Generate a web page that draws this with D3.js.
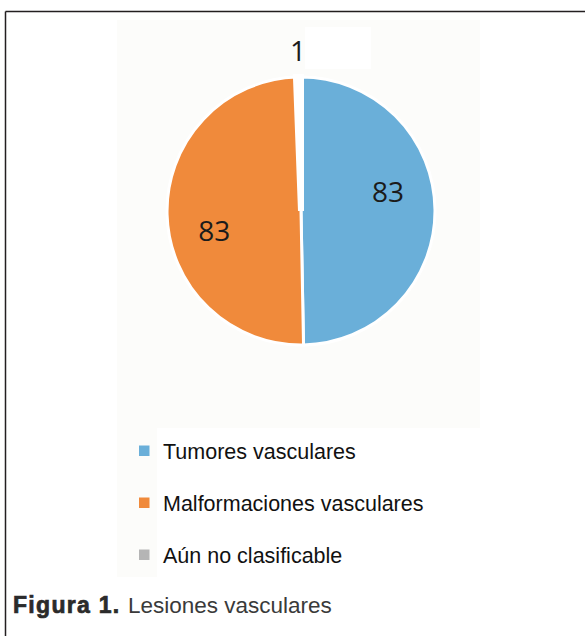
<!DOCTYPE html>
<html>
<head>
  <meta charset="utf-8">
  <title>Lesiones vasculares</title>
  <script src="https://d3js.org/d3.v7.min.js"></script>
  <style>
    body { margin: 0; background: #fff; }
    .legend text { font-family: "Liberation Sans", Arial, sans-serif; font-size: 21.5px; fill: #111; }
    .lbl { font-family: "Open Sans", "Segoe UI", sans-serif; font-size: 28px; fill: #1b1b1b; }
  </style>
</head>
<body>
  <svg id="chart" width="585" height="636"></svg>

  <script>
    // datos
    var categories = ["Tumores vasculares", "Malformaciones vasculares", "Aún no clasificable"];
    var values = [83, 83, 1];
    var colors = ["#6aafd9", "#f08a3b", "#b5b5b5"];

    var data = categories.map(function(c, i) { return { name: c, value: values[i] }; });

    var svg = d3.select("#chart");

    // marco de la figura (solo arriba e izquierda)
    svg.append("line").attr("x1", 5.5).attr("y1", 11.5).attr("x2", 585).attr("y2", 11.5)
      .attr("stroke", "#231f20").attr("stroke-width", 1.5);
    svg.append("line").attr("x1", 5.5).attr("y1", 11.5).attr("x2", 5.5).attr("y2", 636)
      .attr("stroke", "#231f20").attr("stroke-width", 1.5);

    // fondo claro de la imagen pegada
    svg.append("rect").attr("x", 117).attr("y", 20).attr("width", 363).attr("height", 408).attr("fill", "#fcfcfa");
    svg.append("rect").attr("x", 117).attr("y", 428).attr("width", 40).attr("height", 149).attr("fill", "#fcfcfa");
    svg.append("rect").attr("x", 305).attr("y", 27).attr("width", 66).attr("height", 42).attr("fill", "#ffffff");

    var cx = 301, cy = 211, radius = 134;
    var g = svg.append("g").attr("transform", "translate(" + cx + "," + cy + ")");

    var total = d3.sum(values);
    var pie = d3.pie().sort(null).value(function(d) { return d.value; });
    var arc = d3.arc().innerRadius(0).outerRadius(radius);
    var arcs = pie(data);

    g.selectAll("path")
      .data(arcs)
      .enter().append("path")
        .attr("d", arc)
        .attr("fill", function(d, i) { return colors[i]; })
        .attr("stroke", "#fff")
        .attr("stroke-width", function(d) { return d.value / total < 0.05 ? 6 : 3; });

    // etiquetas: dentro para los sectores grandes, fuera para el pequeño
    var inner = d3.arc().innerRadius(89).outerRadius(89);
    var outer = d3.arc().innerRadius(160).outerRadius(160);
    var shift = 0.2;

    g.selectAll(".lbl")
      .data(arcs)
      .enter().append("text")
        .attr("class", "lbl")
        .attr("text-anchor", "middle")
        .attr("transform", function(d) {
          var p;
          if (d.value / total < 0.05) {
            p = outer.centroid(d);
          } else {
            p = inner.centroid({ startAngle: d.startAngle - shift, endAngle: d.endAngle - shift });
          }
          return "translate(" + p[0] + "," + (p[1] + 10) + ")";
        })
        .text(function(d) { return d.value; });

    // leyenda
    var legendY = d3.scalePoint().domain(categories).range([451, 555]);
    var legend = svg.append("g").attr("class", "legend");
    var item = legend.selectAll("g")
      .data(categories)
      .enter().append("g")
        .attr("transform", function(d) { return "translate(0," + legendY(d) + ")"; });
    item.append("rect")
      .attr("x", 139).attr("y", -5.5).attr("width", 10.5).attr("height", 10.5)
      .attr("fill", function(d, i) { return colors[i]; });
    item.append("text")
      .attr("x", 163).attr("y", 7.5)
      .text(function(d) { return d; });

    // pie de figura
    svg.append("text")
      .attr("x", 13).attr("y", 613)
      .style("font-family", "'Liberation Sans', Arial, sans-serif")
      .style("font-size", "23px").style("font-weight", "bold")
      .style("letter-spacing", "1.3px")
      .attr("fill", "#2b2b2b").attr("stroke", "#2b2b2b").attr("stroke-width", 0.7)
      .text("Figura 1.");
    svg.append("text")
      .attr("x", 128).attr("y", 613)
      .style("font-family", "'Liberation Sans', Arial, sans-serif")
      .style("font-size", "22.5px")
      .attr("fill", "#3a3a3a")
      .text("Lesiones vasculares");
  </script>
</body>
</html>
